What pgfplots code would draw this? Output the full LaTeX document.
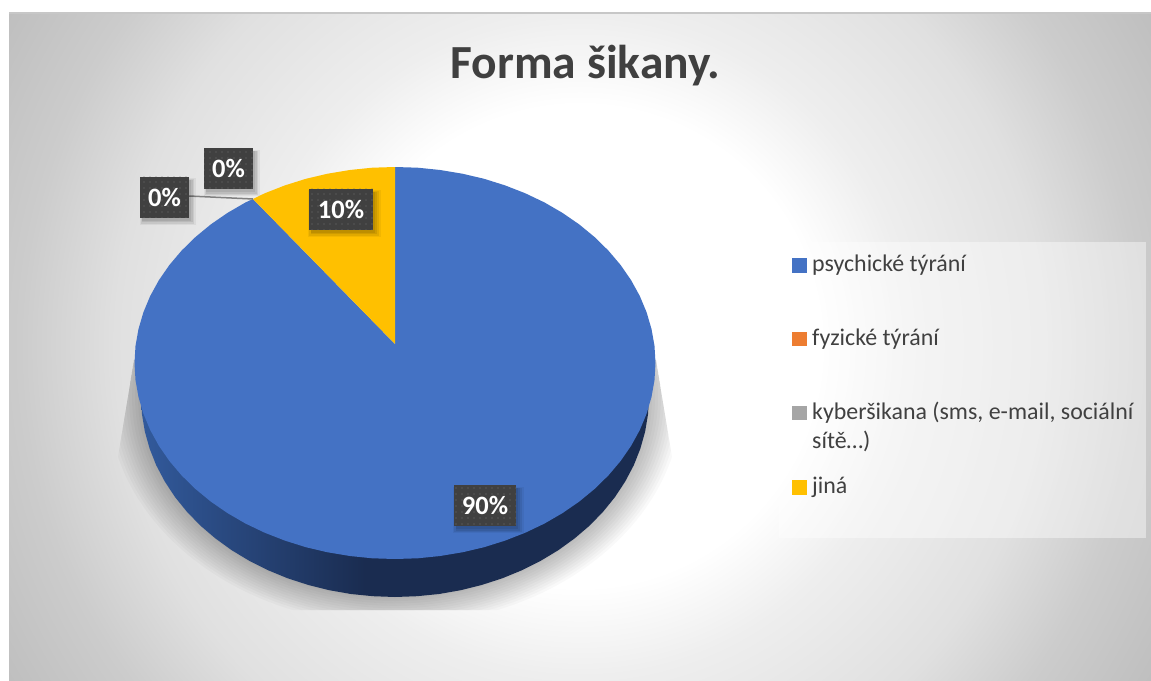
\documentclass[border=0pt]{standalone}
\usepackage{fontspec}
\setmainfont{Carlito}
\usepackage{pgfplots}
\pgfplotsset{compat=1.18}
\usetikzlibrary{patterns.meta,shadows}

\definecolor{blueface}{HTML}{4472C4}
\definecolor{yellowface}{HTML}{FFC000}
\definecolor{orangeleg}{HTML}{ED7D31}
\definecolor{grayleg}{HTML}{A5A5A5}
\definecolor{walllight}{HTML}{325A9C}
\definecolor{walldark}{HTML}{1A2C50}
\definecolor{txt}{HTML}{404040}
\definecolor{bg1}{HTML}{EEEEEE}
\definecolor{bg2}{HTML}{E0E0E0}
\definecolor{bg3}{HTML}{CCCCCC}
\definecolor{bg4}{HTML}{BFBFBF}

% path bbox maps to 25bp..75bp of the shading, so 25bp = 700 units here
\pgfdeclareradialshading{chartbg}{\pgfpointorigin}{%
  color(0bp)=(white); color(8.6bp)=(white); color(11.8bp)=(bg1);
  color(16.6bp)=(bg2); color(20bp)=(bg3); color(23.6bp)=(bg4); color(50bp)=(bg4)}
\pgfdeclarehorizontalshading{wallshade}{100bp}{%
  color(0bp)=(walllight); color(25bp)=(walllight); color(47bp)=(walldark); color(100bp)=(walldark)}

\tikzset{
  datalbl/.style={
    general shadow={shadow xshift=3pt,shadow yshift=-4pt,shadow scale=1.14,fill=black,opacity=.05},
    general shadow={shadow xshift=3pt,shadow yshift=-4pt,shadow scale=1.09,fill=black,opacity=.07},
    general shadow={shadow xshift=3pt,shadow yshift=-4pt,shadow scale=1.04,fill=black,opacity=.08},
    general shadow={shadow xshift=2pt,shadow yshift=-3pt,fill=black,opacity=.08},
    preaction={fill=txt},
    pattern={Dots[distance=6pt,radius=0.7pt]}, pattern color=white!25!txt,
    text=white, font=\fontsize{26.5}{30}\selectfont\bfseries,
    minimum height=41pt, inner sep=0pt, anchor=center},
  legtxt/.style={anchor=base west, text=txt, font=\fontsize{23.9}{28}\selectfont, inner sep=0pt},
}

\begin{document}
\begin{tikzpicture}
\path[use as bounding box] (0,0) rectangle (1151pt,680pt);
\begin{axis}[
  scale only axis, width=1151pt, height=680pt,
  xmin=0, xmax=1151, ymin=0, ymax=680, y dir=reverse,
  hide axis, clip=true,
]
% chart area
\begin{scope}
  \clip (axis cs:9,13) rectangle (axis cs:1151,680);
  \path[shading=chartbg] (axis cs:580,346) circle [radius=700];
\end{scope}
\addplot[draw=black!22, line width=1.5pt] coordinates {(9,13) (1151,13)};

% legend background
\fill[white, opacity=.42] (axis cs:779,242) rectangle (axis cs:1146,538);

% shadow under the pie
\begin{scope}
  \clip (axis cs:134,360) -- (axis cs:118,457) -- (axis cs:118,610) -- (axis cs:672,610)
     -- (axis cs:672,457) -- (axis cs:656,360) -- cycle;
  \pgfplotsinvokeforeach{0,...,11}{
    \fill[black, opacity=.022] (axis cs:395,397) ellipse [x radius={287-#1*3}, y radius={228-#1*2.4}];
  }
\end{scope}

% side wall
\addplot[draw=none, shading=wallshade] coordinates {
 (141,397) (142,414.4) (144.9,431.7) (149.7,448.8) (156.3,465.4) (164.8,481.5) (175,497)
 (186.9,511.7) (200.4,525.6) (215.4,538.4) (231.7,550.2) (249.3,560.8) (268,570.2)
 (287.7,578.3) (308.1,584.9) (329.3,590.2) (350.9,594) (372.9,596.2) (395,597)
 (417.1,596.2) (439.1,594) (460.7,590.2) (481.9,584.9) (502.3,578.3) (522,570.2)
 (540.7,560.8) (558.3,550.2) (574.6,538.4) (589.6,525.6) (603.1,511.7) (615,497)
 (625.2,481.5) (633.7,465.4) (640.3,448.8) (645.1,431.7) (648,414.4) (649,397)
} --cycle;

% psychicke tyrani, 90 %
\addplot[draw=none, fill=blueface] coordinates {
 (395,344) (395,167) (417.7,167.7) (440.2,170) (462.4,173.7) (484.1,178.8) (505.1,185.4)
 (525.3,193.3) (544.4,202.4) (562.5,212.9) (579.2,224.4) (594.5,237) (608.4,250.6)
 (620.6,265) (631.1,280.2) (639.8,296) (646.6,312.3) (651.5,329) (654.5,345.9) (655.5,363)
 (654.5,380.1) (651.5,397) (646.6,413.7) (639.8,430) (631.1,445.8) (620.6,461) (608.4,475.4)
 (594.5,489) (579.2,501.6) (562.5,513.1) (544.4,523.6) (525.3,532.7) (505.1,540.6)
 (484.1,547.2) (462.4,552.3) (440.2,556) (417.7,558.3) (395,559)
 (372.3,558.3) (349.8,556) (327.6,552.3) (305.9,547.2) (284.9,540.6) (264.7,532.7)
 (245.6,523.6) (227.5,513.1) (210.8,501.6) (195.5,489) (181.6,475.4) (169.4,461)
 (158.9,445.8) (150.2,430) (143.4,413.7) (138.5,397) (135.5,380.1) (134.5,363)
 (135.5,345.9) (138.5,329) (143.4,312.3) (150.2,296) (158.9,280.2) (169.4,265)
 (181.6,250.6) (195.5,237) (210.8,224.4) (227.5,212.9) (245.6,202.4) (253,199)
} --cycle;

% jina, 10 %
\addplot[draw=none, fill=yellowface] coordinates {
 (395,344) (253,199) (264.7,193.3) (284.9,185.4) (305.9,178.8) (327.6,173.7)
 (349.8,170) (372.3,167.7) (395,167)
} --cycle;

% leader line of the 0 % label
\addplot[draw=black!50, line width=1.5pt] coordinates {(189,196) (253,199)};

% legend keys
\addplot[only marks, color=blueface, mark=square*, mark size=6.7pt] coordinates {(799,265)};
\addplot[only marks, color=orangeleg, mark=square*, mark size=6.7pt] coordinates {(799,338.5)};
\addplot[only marks, color=grayleg, mark=square*, mark size=6.7pt] coordinates {(799,412.5)};
\addplot[only marks, color=yellowface, mark=square*, mark size=6.7pt] coordinates {(799,487)};

\node[legtxt] at (axis cs:812,271.5) {psychické týrání};
\node[legtxt] at (axis cs:812,345.5) {fyzické týrání};
\node[legtxt] at (axis cs:812,419.5) {kyberšikana (sms, e-mail, sociální};
\node[legtxt] at (axis cs:812,448.5) {sítě…)};
\node[legtxt] at (axis cs:812,493.5) {jiná};

% data labels
\node[datalbl, minimum width=49pt] at (axis cs:164.5,197) {0\%};
\node[datalbl, minimum width=49pt] at (axis cs:228.5,168.5) {0\%};
\node[datalbl, minimum width=64pt] at (axis cs:341,209) {10\%};
\node[datalbl, minimum width=62pt] at (axis cs:485,505.5) {90\%};

% title
\node[anchor=base, text=txt, inner sep=0pt, font=\fontsize{47.5}{52}\selectfont\bfseries]
  at (axis cs:585.5,78) {Forma šikany.};
\end{axis}
\end{tikzpicture}
\end{document}
